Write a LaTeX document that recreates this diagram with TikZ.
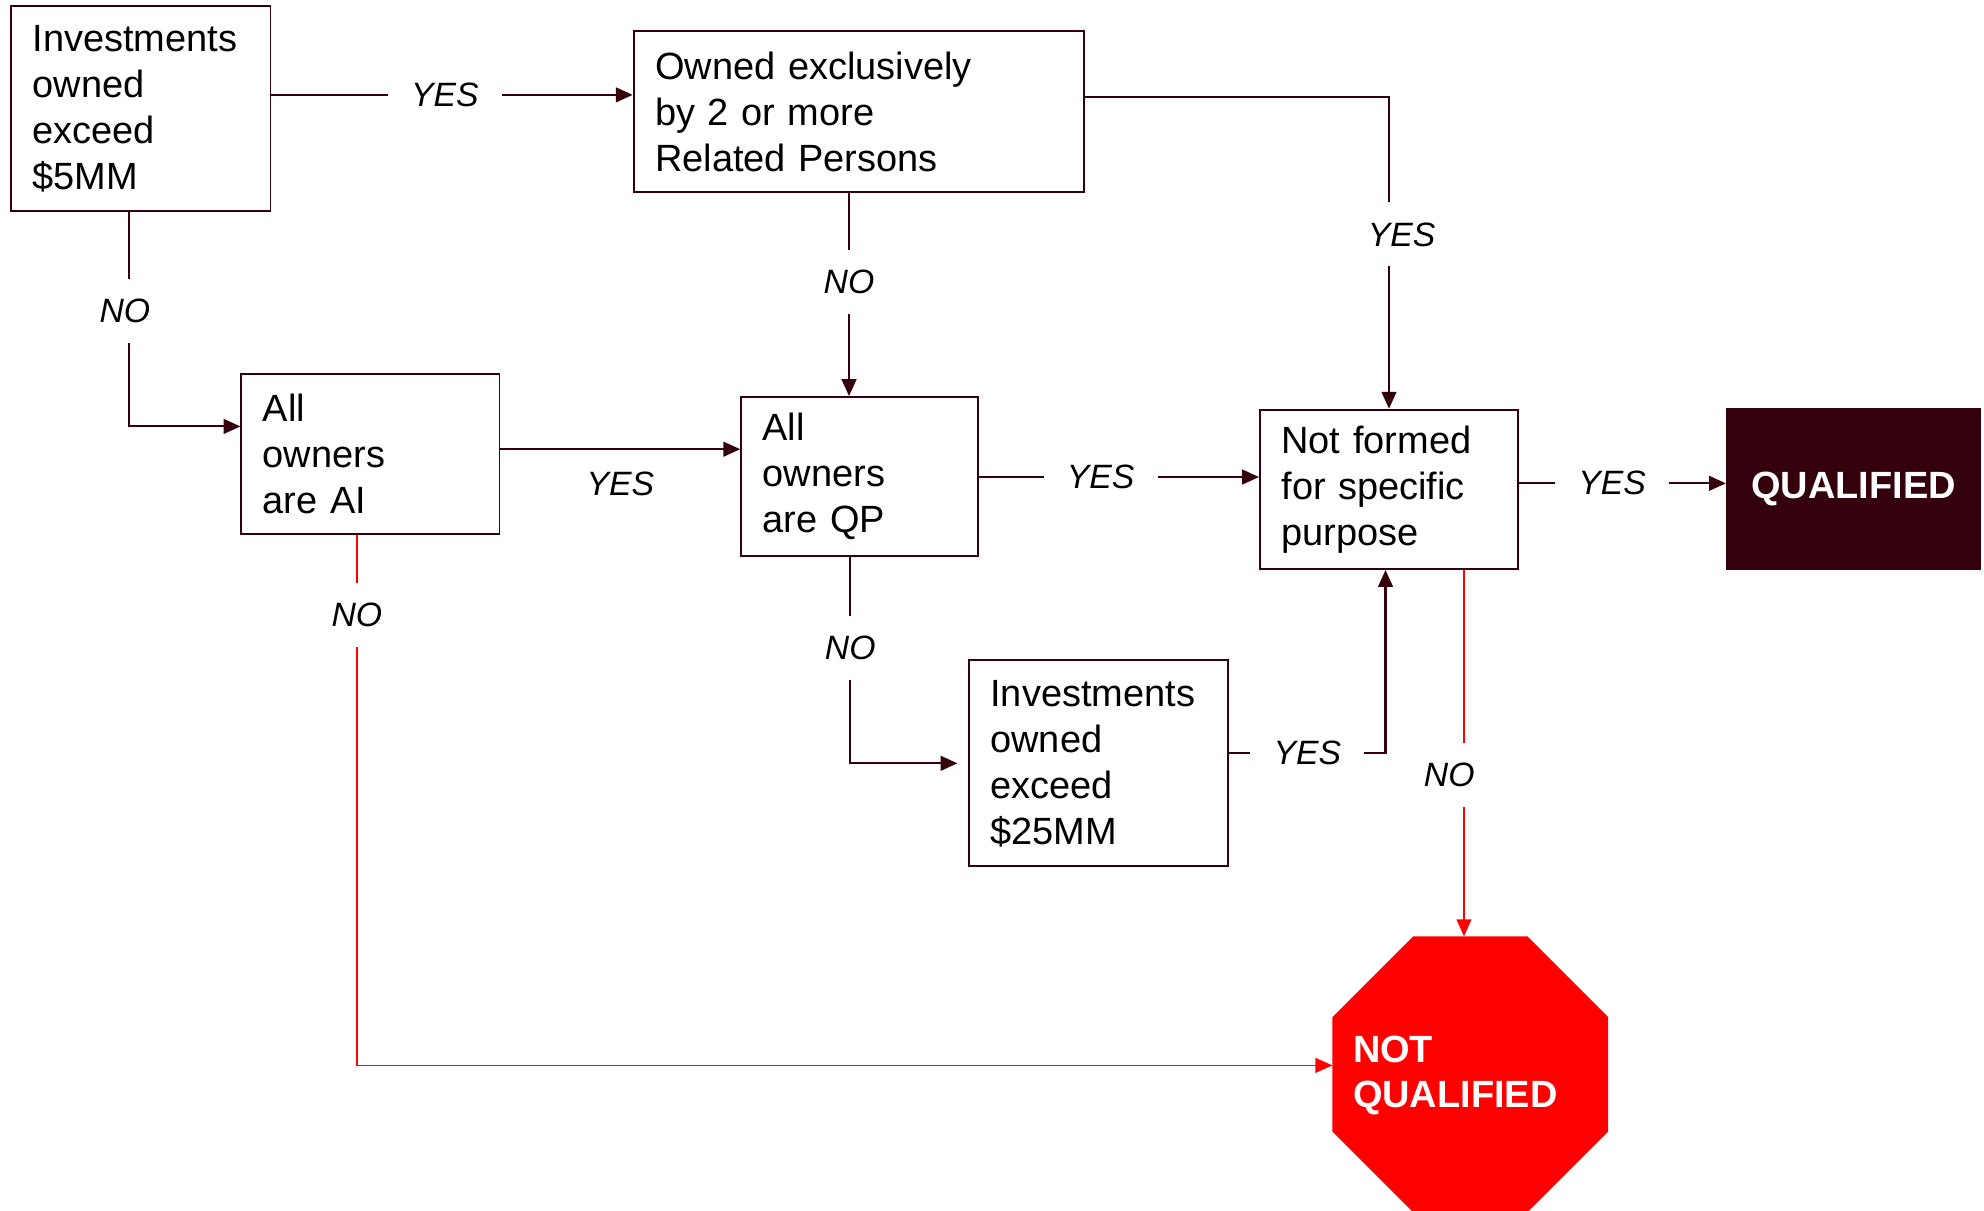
\documentclass[tikz,border=0pt]{standalone}
\usepackage{fontspec}
\setmainfont{Liberation Sans}
\usetikzlibrary{arrows.meta}
\usetikzlibrary{shapes}
\definecolor{darkmaroon}{RGB}{51,0,12}
\definecolor{stopred}{RGB}{255,0,0}

\begin{document}
\begin{tikzpicture}[x=0.6pt, y=-0.6pt,
  qbox/.style={draw=darkmaroon, line width=0.9pt, anchor=north west, align=left,
    inner xsep=10.2pt, inner ysep=0pt, font=\fontsize{18}{21.8}\selectfont},
  qual/.style={fill=darkmaroon, text=white, anchor=north west, minimum width=120.6pt,
    minimum height=76.8pt, font=\fontsize{18}{21.6}\selectfont\bfseries},
  stopsign/.style={regular polygon, regular polygon sides=8, fill=stopred, minimum size=141.6pt,
    inner sep=0pt, outer sep=0pt},
  stoptext/.style={text=white, align=left, anchor=west, inner sep=0pt,
    font=\fontsize{18}{21.6}\selectfont\bfseries},
  lbl/.style={fill=white, inner xsep=11pt, inner ysep=9.5pt, font=\fontsize{16}{19}\selectfont\itshape},
  arr/.style={draw=darkmaroon, line width=1pt, -{Triangle[length=8pt,width=7pt]}},
  redarr/.style={arr, draw=stopred, line width=0.8pt}]
\useasboundingbox (0,0) rectangle (1568,957);

\foreach \n/\x/\y/\w/\h/\t in
{
b1/8/4/205/162/{Investments\\owned\\exceed\\\$5MM},
b2/500/24/356/127/{Owned exclusively\\by 2 or more\\Related Persons},
b3/190/295/204/126/{All\\owners\\are AI},
b4/585/313/187/126/{All\\owners\\are QP},
b5/995/323/204/126/{Not formed\\for specific\\purpose},
b6/765/521/205/163/{Investments\\owned\\exceed\\\$25MM}
}
{
\pgfmathsetmacro\tw{(\w-34)*0.6}
\pgfmathsetmacro\mh{\h*0.6}
\node[qbox, text width=\tw pt, minimum height=\mh pt] (\n) at (\x,\y) {\t};
}

\node[qual] (q) at (1364,322) {QUALIFIED};
\node[stopsign] (nq) at (1162,849) {};
\node[stoptext] (nqtext) at (1069,850) {NOT\\QUALIFIED};

% yes / no branches
\draw[arr] (b1.east |- 0,75) -- node[lbl, pos=0.48]{YES} (b2.west |- 0,75);
\draw[arr] (b1.south -| 102,0) |- node[lbl, pos=0.23, xshift=-2pt]{NO} (b3.west |- 0,337);
\draw[arr] (b2.east |- 0,77) -| node[lbl, pos=0.72, xshift=6pt]{YES} (b5.north);
\draw[arr] (b2.south -| 671,0) -- node[lbl, pos=0.44]{NO} (b4.north -| 671,0);
\draw[arr] (b3.east |- 0,355) -- node[lbl, fill=none, below=1pt]{YES} (b4.west |- 0,355);
\draw[arr] (b4.east |- 0,377) -- node[lbl, pos=0.435]{YES} (b5.west |- 0,377);
\draw[arr] (b5.east |- 0,382) -- node[lbl, pos=0.45]{YES} (q.west |- 0,382);
\draw[arr, shorten >=5pt] (b4.south -| 672,0) |- node[lbl, pos=0.22]{NO} (b6.west);
\draw[arr] (b6.east |- 0,595) -| node[lbl, pos=0.25]{YES} (b5.south -| 1095,0);
\draw[redarr] (b3.south -| 282,0) |- node[lbl, pos=0.076]{NO} (nq.west |- 0,842);
\draw[redarr] (b5.south -| 1157,0) -- node[lbl, pos=0.56, xshift=-7pt]{NO} (nq.north -| 1157,0);
\end{tikzpicture}
\end{document}
